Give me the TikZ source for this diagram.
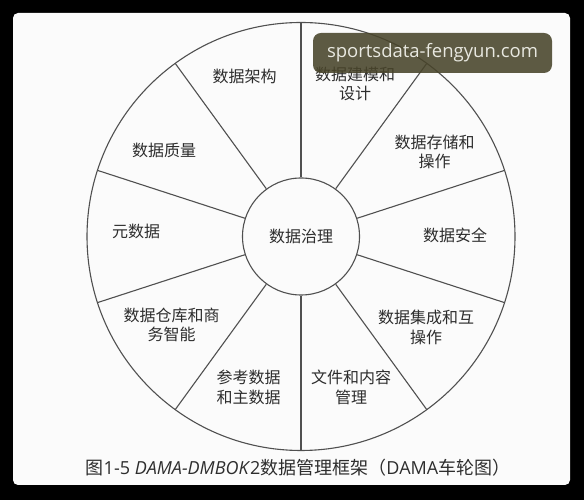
\documentclass[tikz,border=0pt]{standalone}
\usepackage{fontspec}
\setmainfont{Open Sans}
\newfontfamily\cjk{Noto Sans CJK SC}
\usepackage{xcolor}
\usepackage{tikz}
\usetikzlibrary{positioning, calc}
\definecolor{wheelGray}{RGB}{80, 80, 80}
\definecolor{textGray}{RGB}{45, 45, 45}
\definecolor{pageWhite}{RGB}{251, 251, 251}
\definecolor{markOlive}{RGB}{72, 68, 42}
\definecolor{markText}{RGB}{232, 232, 224}

\begin{document}
\begin{tikzpicture}[x=1pt, y=1pt,
    wheelline/.style={wheelGray, line width=1.1pt},
    sector/.style={text=textGray, align=center, inner sep=0pt,
      font=\cjk\fontsize{16}{19.5}\selectfont}]
  % Frame
  \useasboundingbox (0,0) rectangle (584,500);
  \fill[black] (0,0) rectangle (584,500);
  \fill[pageWhite, rounded corners=5pt] (13,15) rectangle (570,487);

  % Wheel
  \coordinate (wheel) at (301,263.5);
  \draw[wheelline] (wheel) circle[radius=214pt];
  \node[circle, draw=wheelGray, line width=1.1pt, minimum size=117pt,
    inner sep=0pt, sector] (hub) at (wheel) {数据治理};

  % Spokes (10 sectors)
  \foreach \a in {18, 54, ..., 342} {
      \draw[wheelline] (hub.\a) -- ($(wheel)+(\a:214pt)$);
  }

  % Sector labels
  \node[sector] (arch) at (244.5,424) {数据架构};
  \node[sector] (model) at (355,416) {数据建模和\\设计};
  \node[sector] (store) at (434.5,348.3) {数据存储和\\操作};
  \node[sector] (secure) at (455,265) {数据安全};
  \node[sector] (integ) at (426,172.5) {数据集成和互\\操作};
  \node[sector] (docs) at (351,112.5) {文件和内容\\管理};
  \node[sector] (refdata) at (248.5,112.5) {参考数据\\和主数据};
  \node[sector] (dwbi) at (171.5,175) {数据仓库和商\\务智能};
  \node[sector] (meta) at (136,268.3) {元数据};
  \node[sector] (quality) at (164,350) {数据质量};

  % Caption
  \node[text=textGray, inner sep=0pt, font=\fontsize{18}{20}\selectfont]
    (caption) at (298,32)
    {{\cjk 图}1-5 \textit{DAMA-DMBOK}2{\cjk 数据管理框架（}DAMA{\cjk 车轮图）}};

  % Watermark
  \node[fill=markOlive, fill opacity=0.88, text opacity=1, text=markText,
    rounded corners=8pt, minimum width=239pt, minimum height=40pt,
    inner sep=0pt, font=\fontsize{18.5}{20}\selectfont]
    (mark) at (432.5,447) {sportsdata-fengyun.com};
\end{tikzpicture}
\end{document}
